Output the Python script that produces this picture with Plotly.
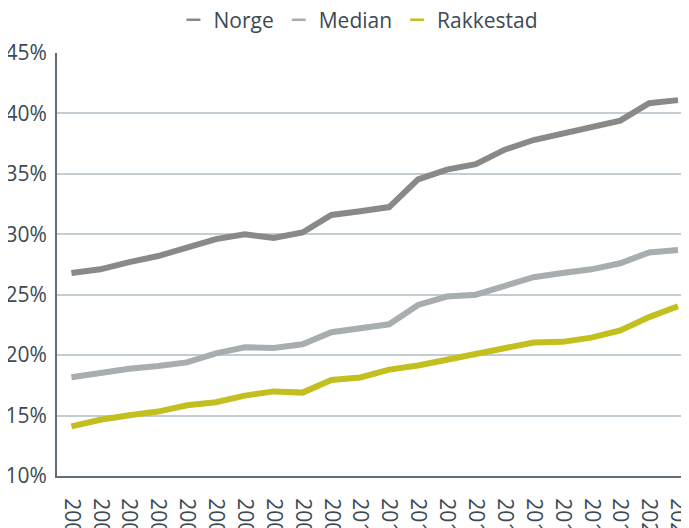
import plotly.graph_objects as go

years = [str(y) for y in range(2000, 2022)]
norge = [26.8, 27.1, 27.7, 28.2, 28.9, 29.6, 30.0, 29.7, 30.15, 31.6, 31.9,
         32.25, 34.55, 35.35, 35.8, 37.0, 37.8, 38.35, 38.9, 39.4, 40.85, 41.1]
median = [18.17, 18.55, 18.87, 19.1, 19.4, 20.15, 20.65, 20.6, 20.9, 21.9, 22.25,
          22.55, 24.15, 24.85, 25.0, 25.7, 26.45, 26.8, 27.1, 27.6, 28.5, 28.7]
rakkestad = [14.1, 14.65, 15.03, 15.33, 15.85, 16.1, 16.65, 17.0, 16.9, 17.95, 18.15,
             18.8, 19.15, 19.6, 20.15, 20.6, 21.05, 21.1, 21.45, 22.05, 23.15, 24.05]
series_names = ["Norge", "Median", "Rakkestad"]
colors = ["#898989", "#a8adb0", "#c2bf1e"]
ytick_vals = [10, 15, 20, 25, 30, 35, 40, 45]
ytick_text = [f"{v}%" for v in ytick_vals]

fig = go.Figure()
for name, vals, col in zip(series_names, [norge, median, rakkestad], colors):
    fig.add_trace(go.Scatter(x=years, y=vals, name=name, mode="lines",
                             line=dict(color=col, width=6), showlegend=False,
                             legendgroup=name))
# legend entries (short thin line symbols like the reference)
for name, col in zip(series_names, colors):
    fig.add_trace(go.Scatter(x=[None], y=[None], name=name, mode="markers",
                             legendgroup=name,
                             marker=dict(symbol="line-ew", size=10,
                                         line=dict(color=col, width=2.5))))

textcol = "#3c4a54"
fig.update_layout(
    width=689, height=528,
    margin=dict(l=49, r=6, t=45, b=60, autoexpand=False),
    paper_bgcolor="white", plot_bgcolor="white",
    font=dict(family="Open Sans", size=21, color=textcol),
    legend=dict(orientation="h", x=0.4755, xanchor="center", y=0.977, yanchor="middle",
                yref="container", font=dict(size=21, color=textcol), itemwidth=30,
                traceorder="normal", tracegroupgap=0),
    showlegend=True,
)
fig.update_xaxes(type="category", range=[-0.5, 21.45], tickangle=90,
                 showgrid=False, showline=True, linecolor="#5f6e78", linewidth=2,
                 ticks="", ticklabelstandoff=16, automargin=False,
                 tickfont=dict(size=21, color=textcol))
fig.update_yaxes(range=[10, 45], tickvals=ytick_vals, ticktext=ytick_text,
                 showgrid=True, gridcolor="#c3ced4", gridwidth=1.5,
                 showline=True, linecolor="#5f6e78", linewidth=2,
                 zeroline=False, ticks="", ticklabelstandoff=4, automargin=False,
                 tickfont=dict(size=21, color=textcol))

fig.write_html("out.html")
